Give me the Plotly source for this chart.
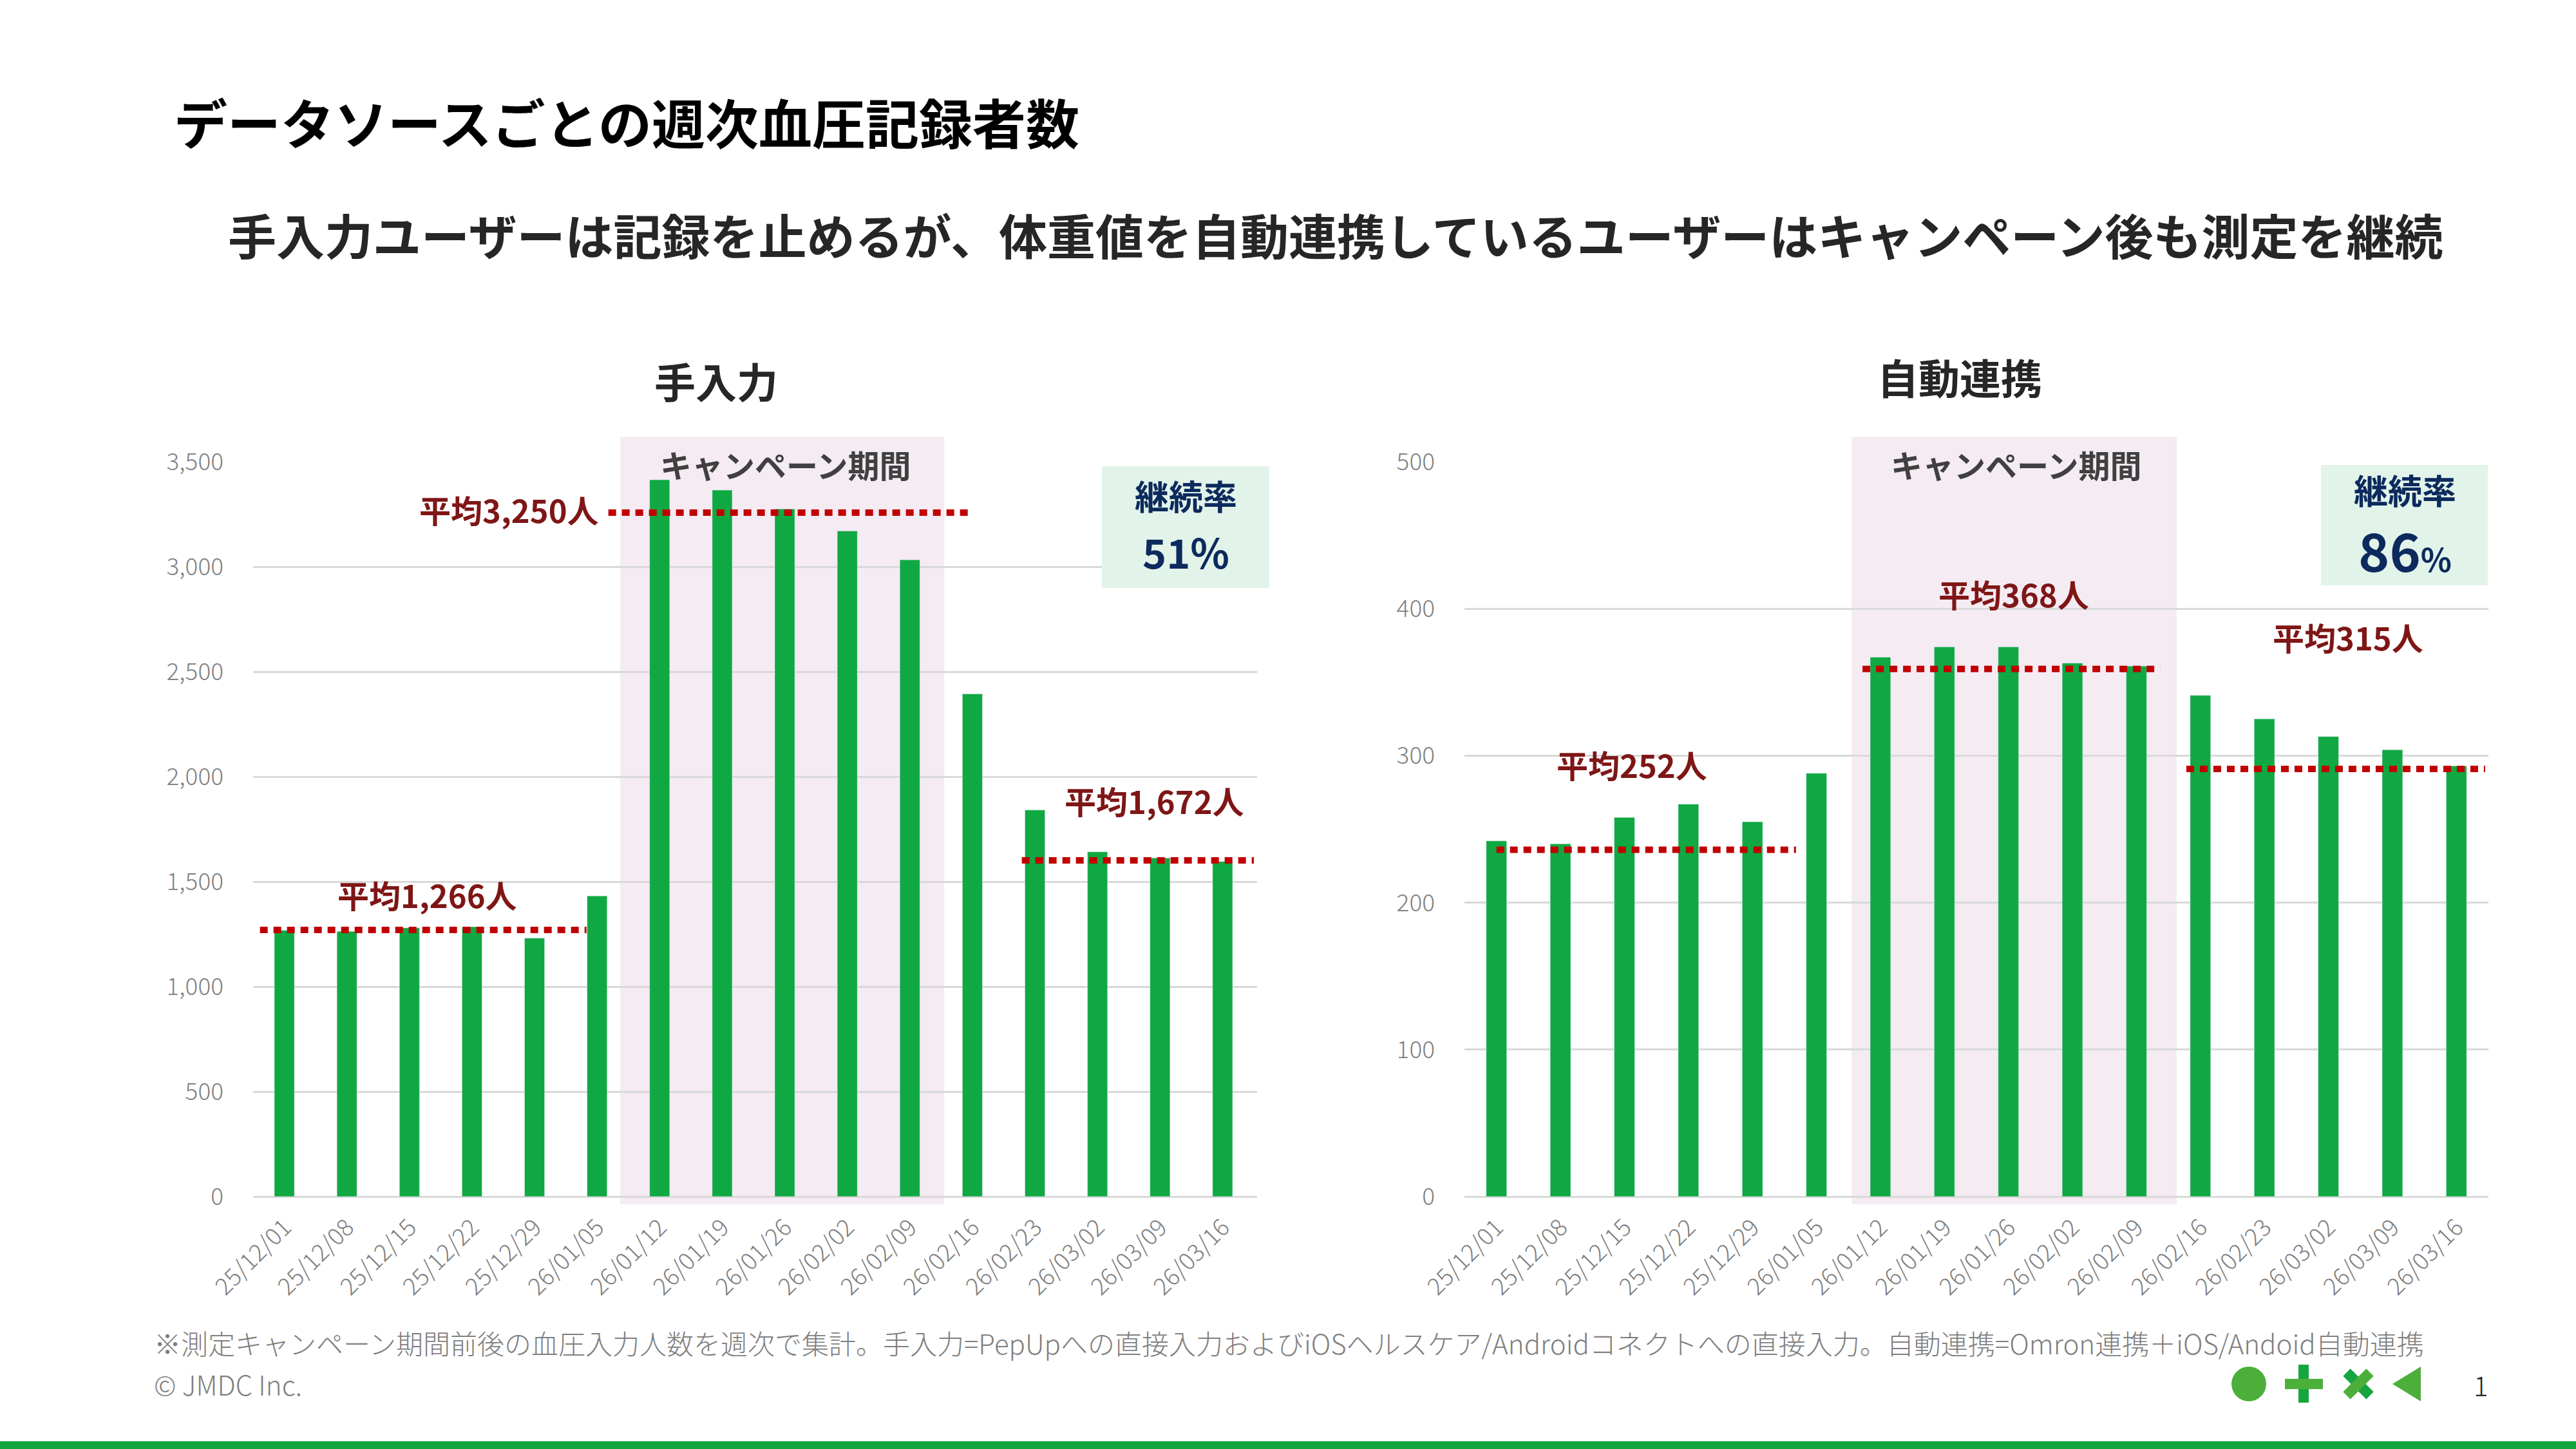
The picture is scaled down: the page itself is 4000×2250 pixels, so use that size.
import plotly.graph_objects as go

# === Data ===
weeks = ['25/12/01', '25/12/08', '25/12/15', '25/12/22', '25/12/29', '26/01/05',
         '26/01/12', '26/01/19', '26/01/26', '26/02/02', '26/02/09', '26/02/16',
         '26/02/23', '26/03/02', '26/03/09', '26/03/16']
manual_counts = [1268, 1263, 1280, 1285, 1231, 1432, 3414, 3365, 3275, 3170,
                 3033, 2394, 1841, 1642, 1613, 1596]
auto_counts = [242, 240, 258, 267, 255, 288, 367, 374, 374, 363,
               361, 341, 325, 313, 304, 293]

manual_avg_lines = [1270, 3258, 1601]
auto_avg_lines = [236, 359, 291]
manual_avg_labels = ['平均1,266人', '平均3,250人', '平均1,672人']
auto_avg_labels = ['平均252人', '平均368人', '平均315人']
manual_rate = '51'
auto_rate = '86'

FONT = 'Noto Sans CJK JP'
W, H = 4000, 2250
BAR_GREEN = '#10A842'
GRAY = '#7F7F7F'
DARK_RED = '#7F1616'
DOT_RED = '#C00000'
NAVY = '#0D2A5E'


def px(x):
    return x / W


def py(y):
    return 1 - y / H


fig = go.Figure()
fig.add_trace(go.Bar(x=weeks, y=manual_counts, marker_color=BAR_GREEN,
                     xaxis='x', yaxis='y', showlegend=False))
fig.add_trace(go.Bar(x=weeks, y=auto_counts, marker_color=BAR_GREEN,
                     xaxis='x2', yaxis='y2', showlegend=False))

axis_font = dict(family=FONT, size=37, color=GRAY, weight=300)
ydom = [py(1858), py(717)]
xcommon = dict(type='category', tickangle=-45, tickfont=axis_font, showgrid=False,
               showline=False, zeroline=False, ticks='', ticklabelstandoff=18,
               automargin=False)
ycommon = dict(domain=ydom, tickfont=axis_font, gridcolor='#D9D9D9', gridwidth=3,
               zeroline=True, zerolinecolor='#D9D9D9', zerolinewidth=3,
               showline=False, ticks='', ticklabelstandoff=45, tickformat=',',
               automargin=False)

fig.update_layout(
    xaxis=dict(domain=[px(393), px(1952)], anchor='y', **xcommon),
    yaxis=dict(range=[0, 3500], dtick=500, anchor='x', **ycommon),
    xaxis2=dict(domain=[px(2274), px(3864)], anchor='y2', **xcommon),
    yaxis2=dict(range=[0, 500], dtick=100, anchor='x2', **ycommon),
    bargap=0.68,
)

shapes = []
annotations = []

# campaign period shading
for xr, s0, s1 in [('x', 5.37, 10.55), ('x2', 5.55, 10.63)]:
    shapes.append(dict(type='rect', xref=xr, yref='paper', x0=s0, x1=s1,
                       y0=py(1870), y1=py(678), fillcolor='#F5EBF3',
                       line_width=0, layer='below'))
for xc in [1220, 3131]:
    annotations.append(dict(x=px(xc), y=py(720), text='キャンペーン期間',
                            font=dict(family=FONT, size=49, color='#404040', weight='bold')))

# average dotted lines
dot = dict(color=DOT_RED, width=10, dash='12px,9px')
for (xr, yr, vals, spans) in [
        ('x', 'y', manual_avg_lines, [(-0.39, 4.83), (5.18, 10.96), (11.79, 15.5)]),
        ('x2', 'y2', auto_avg_lines, [(0.0, 4.68), (5.72, 10.37), (10.78, 15.45)])]:
    for v, (a, b) in zip(vals, spans):
        shapes.append(dict(type='line', xref=xr, yref=yr, x0=a, x1=b, y0=v, y1=v,
                           line=dot, layer='above'))

# average labels
label_pos_manual = [(663, 1388), (790, 790), (1792, 1242)]
label_pos_auto = [(2534, 1186), (3127, 921), (3646, 989)]
for txt, (x, y) in zip(manual_avg_labels + auto_avg_labels,
                       label_pos_manual + label_pos_auto):
    annotations.append(dict(x=px(x), y=py(y), text=txt,
                            font=dict(family=FONT, size=49, color=DARK_RED, weight='bold')))

# continuation rate boxes
for x0, x1, y0, y1 in [(1711, 1971, 724, 913), (3604, 3863, 722, 909)]:
    shapes.append(dict(type='rect', xref='paper', yref='paper', x0=px(x0), x1=px(x1),
                       y0=py(y1), y1=py(y0), fillcolor='#E2F4E9', line_width=0,
                       layer='above'))
annotations += [
    dict(x=px(1841), y=py(769), text='継続率',
         font=dict(family=FONT, size=53, color=NAVY, weight='bold')),
    dict(x=px(1841), y=py(856), text=manual_rate + '%',
         font=dict(family=FONT, size=63, color=NAVY, weight='bold')),
    dict(x=px(3734), y=py(760), text='継続率',
         font=dict(family=FONT, size=53, color=NAVY, weight='bold')),
    dict(x=px(3734), y=py(852),
         text=auto_rate + "<span style='font-size:50px'>%</span>",
         font=dict(family=FONT, size=82, color=NAVY, weight='bold')),
]

# titles
annotations += [
    dict(x=px(268), y=py(188), xanchor='left', text='データソースごとの週次血圧記録者数',
         font=dict(family=FONT, size=83, color='#000000', weight='bold')),
    dict(x=px(352), y=py(363), xanchor='left',
         text='手入力ユーザーは記録を止めるが、体重値を自動連携しているユーザーはキャンペーン後も測定を継続',
         font=dict(family=FONT, size=75, color='#262626', weight='bold')),
    dict(x=px(1112), y=py(590), text='手入力',
         font=dict(family=FONT, size=64, color='#262626', weight='bold')),
    dict(x=px(3043), y=py(584), text='自動連携',
         font=dict(family=FONT, size=64, color='#262626', weight='bold')),
]

# footer
annotations += [
    dict(x=px(237), y=py(2084), xanchor='left',
         text='※測定キャンペーン期間前後の血圧入力人数を週次で集計。手入力=PepUpへの直接入力およびiOSヘルスケア/Androidコネクトへの直接入力。自動連携=Omron連携＋iOS/Andoid自動連携',
         font=dict(family=FONT, size=42, color=GRAY, weight=300)),
    dict(x=px(237), y=py(2148), xanchor='left', text='© JMDC Inc.',
         font=dict(family=FONT, size=42, color=GRAY, weight=300)),
    dict(x=px(3852), y=py(2149), text='1',
         font=dict(family=FONT, size=42, color='#262626', weight=300)),
]
for a in annotations:
    a.setdefault('xref', 'paper')
    a.setdefault('yref', 'paper')
    a.setdefault('showarrow', False)
    a.setdefault('xanchor', 'center')
    a.setdefault('yanchor', 'middle')

# logo marks
LG = '#4CAF3A'
DG = '#16A53F'
shapes += [
    dict(type='circle', xref='paper', yref='paper', x0=px(3465), x1=px(3519),
         y0=py(2176), y1=py(2122), fillcolor=LG, line_width=0),
    dict(type='rect', xref='paper', yref='paper', x0=px(3569), x1=px(3585),
         y0=py(2178), y1=py(2119), fillcolor=DG, line_width=0),
    dict(type='rect', xref='paper', yref='paper', x0=px(3548), x1=px(3607),
         y0=py(2157), y1=py(2141), fillcolor=LG, line_width=0),
    dict(type='line', xref='paper', yref='paper', x0=px(3644), x1=px(3680),
         y0=py(2131), y1=py(2167), line=dict(color=DG, width=16)),
    dict(type='line', xref='paper', yref='paper', x0=px(3680), x1=px(3644),
         y0=py(2131), y1=py(2167), line=dict(color=LG, width=16)),
    dict(type='path', xref='paper', yref='paper',
         path=f'M {px(3715)},{py(2149)} L {px(3759)},{py(2122)} L {px(3759)},{py(2176)} Z',
         fillcolor=LG, line_width=0),
    dict(type='rect', xref='paper', yref='paper', x0=0, x1=1, y0=0, y1=py(2238),
         fillcolor='#12A53F', line_width=0),
]

fig.update_layout(
    width=W, height=H, autosize=False,
    margin=dict(l=0, r=0, t=0, b=0),
    paper_bgcolor='white', plot_bgcolor='white',
    font=dict(family=FONT),
    shapes=shapes, annotations=annotations,
)

fig.write_html('out.html', config={'displayModeBar': False},
               post_script="document.body.style.margin='0';")
